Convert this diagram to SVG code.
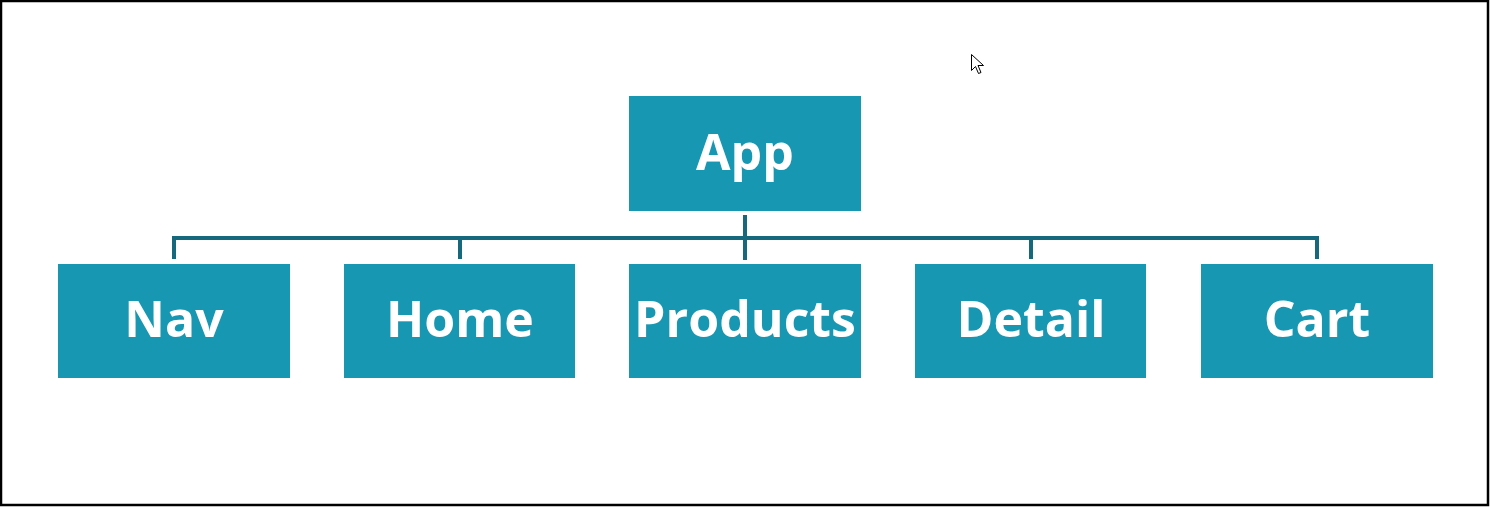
<svg xmlns="http://www.w3.org/2000/svg" width="1490" height="507" viewBox="0 0 1490 507">
<style>
.box{fill:#1897b2}
.lbl{fill:#ffffff;font-family:"Open Sans","Liberation Sans",sans-serif;font-weight:700;font-size:50px;text-anchor:middle}
.conn{stroke:#16687c;stroke-width:4;fill:none}
</style>
<rect x="0" y="0" width="1490" height="507" fill="#ffffff"/>
<rect x="1" y="1" width="1487" height="504" fill="none" stroke="#000000" stroke-width="2.5"/>
<g id="connectors">
<path class="conn" d="M745 215V260M174 259V238H1317V259M460 238V259M1031 238V259"/>
</g>
<g id="app"><rect class="box" x="629" y="96" width="232" height="115"/><text class="lbl" x="745" y="170">App</text></g>
<g id="nav"><rect class="box" x="58" y="264" width="232" height="114"/><text class="lbl" x="174" y="337">Nav</text></g>
<g id="home"><rect class="box" x="344" y="264" width="231" height="114"/><text class="lbl" x="460" y="337">Home</text></g>
<g id="products"><rect class="box" x="629" y="264" width="232" height="114"/><text class="lbl" x="745" y="337">Products</text></g>
<g id="detail"><rect class="box" x="915" y="264" width="231" height="114"/><text class="lbl" x="1031" y="337">Detail</text></g>
<g id="cart"><rect class="box" x="1201" y="264" width="232" height="114"/><text class="lbl" x="1317" y="337">Cart</text></g>
<path d="M971.5 54.5V70.5L975.5 66.5L978.5 73.5L981 72.5L978 65.5H983.5Z" fill="#ffffff" stroke="#000000" stroke-width="1"/>
</svg>
